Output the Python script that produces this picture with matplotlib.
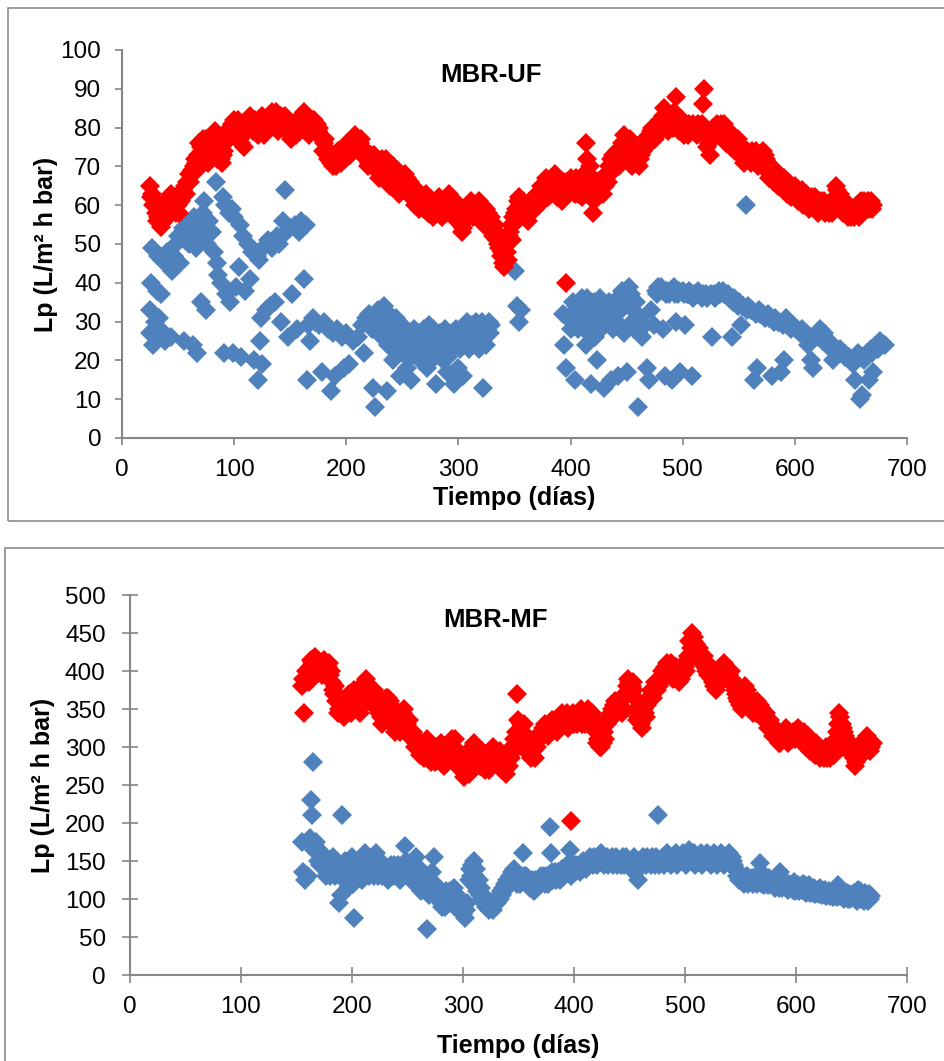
# -*- coding: utf-8 -*-
"""
Lp vs tiempo, MBR-UF y MBR-MF (dos paneles)
"""

import matplotlib
matplotlib.use("Agg")
import matplotlib.pyplot as plt
from matplotlib.patches import Rectangle
import numpy as np

###############################################
# DATA  (dia, Lp)
###############################################
uf_red = [
    (25, 65), (26, 62), (28, 60), (30, 58), (32, 57), (34, 56), (36, 55.5), (38, 57), (40, 59),
    (42, 62), (44, 63), (46, 60), (48, 58), (50, 60), (52, 62), (54, 64), (56, 65), (58, 66),
    (60, 68), (62, 69), (64, 70), (66, 71), (68, 73), (70, 75), (72, 77), (74, 76), (76, 74),
    (78, 72), (80, 74), (82, 77), (84, 78), (86, 75), (88, 72), (90, 73), (92, 76), (94, 79),
    (96, 80), (98, 81), (100, 82), (102, 80), (104, 78), (106, 76), (108, 78), (110, 81),
    (112, 82), (114, 83), (116, 81), (118, 80), (120, 79), (122, 81), (124, 82), (126, 80),
    (128, 79), (130, 81), (132, 83), (134, 84), (136, 82), (138, 80), (140, 81), (142, 83),
    (144, 82), (146, 80), (148, 79), (150, 78), (152, 79), (154, 81), (156, 80), (158, 81),
    (160, 83), (162, 84), (164, 82), (166, 80), (168, 81), (170, 80), (172, 79), (174, 81),
    (176, 80), (178, 77), (180, 76), (182, 74), (184, 72), (186, 71), (188, 70), (190, 72),
    (192, 71), (194, 73), (196, 72), (198, 73), (200, 74), (202, 75), (204, 76), (206, 77),
    (208, 78), (210, 77), (212, 76), (214, 75), (216, 73), (218, 72), (220, 71), (222, 73),
    (224, 72), (226, 70), (228, 69), (230, 71), (232, 72), (234, 70), (236, 68), (238, 67),
    (240, 69), (242, 70), (244, 67), (246, 66), (248, 65), (250, 66), (252, 68), (254, 67),
    (256, 65), (258, 64), (260, 63), (262, 62), (264, 63), (266, 61), (268, 60), (270, 61),
    (272, 62), (274, 60), (276, 59), (278, 58), (280, 60), (282, 61), (284, 59), (286, 58),
    (288, 60), (290, 62), (292, 63), (294, 61), (296, 60), (298, 58), (300, 57), (302, 55),
    (304, 54), (306, 56), (308, 58), (310, 60), (312, 59), (314, 58), (316, 60), (318, 61),
    (320, 59), (322, 58), (324, 57), (326, 58), (328, 56), (330, 55), (332, 53), (334, 51),
    (336, 49), (338, 47), (340, 45), (341, 44), (343, 48), (345, 52), (347, 55), (349, 57),
    (351, 59), (353, 61), (355, 60), (357, 59), (359, 58), (361, 57), (363, 59), (365, 60),
    (367, 62), (369, 61), (371, 62), (373, 63), (375, 64), (377, 65), (379, 63), (381, 64),
    (383, 66), (385, 67), (387, 66), (389, 64), (391, 62), (393, 63), (395, 65), (396, 40),
    (397, 66), (399, 64), (401, 65), (403, 66), (405, 67), (407, 63), (409, 64), (411, 65),
    (413, 67), (414, 76), (415, 72), (417, 70), (419, 65), (420, 58), (422, 63), (424, 66),
    (426, 64), (428, 65), (430, 67), (432, 68), (434, 70), (436, 72), (438, 73), (440, 71),
    (442, 72), (444, 74), (446, 76), (448, 78), (450, 77), (452, 75), (454, 72), (456, 71),
    (458, 73), (460, 74), (462, 72), (464, 75), (466, 77), (468, 76), (470, 78), (472, 79),
    (474, 78), (476, 80), (478, 81), (480, 82), (482, 83), (484, 81), (486, 80), (488, 82),
    (490, 81), (492, 84), (494, 88), (496, 83), (498, 81), (500, 80), (502, 79), (504, 80),
    (506, 81), (508, 80), (510, 79), (512, 80), (514, 81), (516, 79), (518, 86), (519, 90),
    (520, 80), (522, 75), (524, 73), (526, 77), (528, 79), (530, 80), (532, 78), (534, 81),
    (536, 80), (538, 79), (540, 78), (542, 77), (544, 78), (546, 76), (548, 75), (550, 76),
    (552, 75), (554, 74), (556, 73), (558, 72), (560, 73), (562, 74), (564, 73), (566, 72),
    (568, 71), (570, 73), (572, 74), (574, 72), (576, 71), (578, 70), (580, 68), (582, 69),
    (584, 67), (586, 68), (588, 66), (590, 67), (592, 65), (594, 66), (596, 65), (598, 64),
    (600, 65), (602, 64), (604, 63), (606, 64), (608, 62), (610, 63), (612, 62), (614, 61),
    (616, 60), (618, 62), (620, 61), (622, 60), (624, 59), (626, 61), (628, 60), (630, 58),
    (632, 59), (634, 60), (636, 62), (638, 64), (640, 63), (642, 61), (644, 60), (646, 59),
    (648, 58), (650, 57), (652, 58), (654, 59), (656, 58), (658, 59), (660, 60), (662, 61),
    (664, 60), (666, 59), (668, 61), (670, 60),
    # mesures intermediaires
    (27, 63), (29, 61), (31, 56), (33, 58), (35, 54.5), (37, 58), (39, 61), (41, 57), (43, 60),
    (47, 62), (51, 58), (53, 61), (57, 63), (61, 66), (65, 72), (67, 69), (69, 76), (71, 74),
    (73, 73), (75, 77), (77, 71), (79, 75), (81, 73), (83, 79), (85, 72), (87, 77), (89, 71),
    (91, 74), (93, 78), (95, 77), (97, 79), (99, 78), (101, 80), (103, 82), (105, 77),
    (107, 79), (109, 75), (111, 79), (113, 80), (115, 82), (117, 79), (119, 82), (121, 78),
    (123, 80), (125, 83), (127, 78), (129, 82), (131, 80), (133, 81), (135, 82), (137, 84),
    (139, 79), (141, 82), (143, 81), (145, 83), (147, 80), (149, 81), (151, 77), (153, 80),
    (155, 78), (157, 82), (159, 79), (161, 81), (163, 80), (165, 83), (167, 78), (169, 82),
    (171, 82), (173, 80), (175, 79), (177, 78), (179, 74), (181, 77), (183, 73), (185, 74),
    (187, 73), (189, 71), (191, 70), (193, 74), (195, 71), (197, 74), (199, 72), (201, 76),
    (203, 73), (205, 75), (207, 76), (209, 75), (211, 74), (213, 77), (215, 73), (217, 74),
    (219, 70), (221, 72), (223, 70), (225, 73), (227, 72), (229, 67), (231, 69), (233, 68),
    (235, 72), (237, 70), (239, 65), (241, 67), (243, 68), (245, 69), (247, 63), (249, 68),
    (251, 64), (253, 65), (255, 63), (257, 66), (259, 62), (261, 60), (263, 64), (265, 59),
    (267, 62), (269, 59), (271, 63), (273, 58), (275, 61), (277, 57), (279, 59), (281, 58),
    (283, 62), (285, 57), (287, 61), (289, 58), (291, 60), (293, 59), (295, 58), (297, 61),
    (299, 56), (301, 59), (303, 53), (305, 57), (307, 59), (309, 57), (311, 61), (313, 57),
    (315, 59), (317, 58), (319, 57), (321, 60), (323, 55), (325, 59), (327, 54), (329, 57),
    (331, 52), (333, 55), (335, 50), (337, 52), (339, 48), (342, 50), (344, 46), (346, 53),
    (348, 51), (350, 58), (352, 56), (354, 62), (356, 57), (358, 61), (360, 59), (362, 56),
    (364, 58), (366, 61), (368, 59), (370, 63), (372, 60), (374, 65), (376, 62), (378, 67),
    (380, 62), (382, 65), (384, 64), (386, 68), (388, 62), (390, 65), (392, 61), (394, 66),
    (398, 63), (400, 67), (402, 64), (404, 63), (406, 65), (408, 66), (410, 62), (412, 68),
    (416, 68), (418, 67), (421, 61), (423, 65), (425, 63), (427, 66), (429, 63), (431, 65),
    (433, 66), (435, 68), (437, 69), (439, 70), (441, 74), (443, 70), (445, 73), (447, 72),
    (449, 75), (451, 73), (453, 77), (455, 70), (457, 72), (459, 75), (461, 70), (463, 73),
    (465, 74), (467, 75), (469, 77), (471, 76), (473, 80), (475, 77), (477, 78), (479, 80),
    (481, 80), (483, 85), (485, 82), (487, 79), (489, 83), (491, 80), (493, 82), (495, 81),
    (497, 79), (499, 82), (501, 78), (503, 81), (505, 78), (507, 79), (509, 81), (511, 80),
    (513, 78), (515, 80), (517, 81), (521, 78), (523, 76), (525, 79), (527, 80), (529, 78),
    (531, 81), (533, 79), (535, 78), (537, 81), (539, 76), (541, 79), (543, 75), (545, 77),
    (547, 74), (549, 77), (551, 73), (553, 75), (555, 71), (557, 74), (559, 73), (561, 71),
    (563, 72), (565, 74), (567, 70), (569, 72), (571, 70), (573, 73), (575, 69), (577, 67),
    (579, 69), (581, 66), (583, 67), (585, 65), (587, 66), (589, 65), (591, 64), (593, 63),
    (595, 64), (597, 62), (599, 63), (601, 62), (603, 61), (605, 62), (607, 60), (609, 61),
    (611, 60), (613, 59), (615, 62), (617, 60), (619, 59), (621, 58), (623, 61), (625, 60),
    (627, 58), (629, 59), (631, 60), (633, 58), (635, 61), (637, 65), (639, 62), (641, 60),
    (643, 58), (645, 61), (647, 57), (649, 59), (651, 58), (653, 57), (655, 60), (657, 57),
    (659, 61), (661, 59), (663, 60), (665, 61), (667, 60), (669, 59),
]

uf_blue = [
    (25, 27), (25, 33), (26, 40), (27, 49), (28, 24), (29, 30), (30, 26), (31, 38), (32, 47),
    (33, 31), (34, 28), (35, 37), (36, 46), (38, 25), (40, 48), (42, 44), (44, 26), (45, 43),
    (46, 47), (48, 50), (50, 52), (52, 45), (54, 54), (55, 25), (56, 51), (58, 55), (60, 50),
    (62, 53), (63, 24), (64, 57), (66, 49), (67, 22), (68, 52), (70, 55), (70, 35), (72, 58),
    (73, 61), (74, 54), (75, 33), (76, 50), (78, 56), (80, 53), (82, 48), (84, 66), (85, 45),
    (86, 42), (88, 40), (90, 62), (91, 22), (92, 60), (93, 37), (95, 58), (96, 35), (98, 59),
    (99, 22), (100, 57), (102, 39), (104, 44), (105, 55), (106, 21), (108, 52), (110, 38),
    (112, 50), (114, 41), (116, 48), (118, 20), (120, 47), (121, 15), (122, 46), (123, 25),
    (124, 31), (125, 19), (126, 49), (128, 33), (130, 51), (132, 34), (134, 49), (136, 35),
    (138, 52), (140, 50), (142, 30), (144, 56), (145, 64), (146, 53), (148, 26), (150, 54),
    (152, 37), (154, 55), (156, 28), (158, 53), (160, 56), (162, 41), (164, 55), (165, 15),
    (166, 29), (168, 25), (170, 31), (172, 30), (176, 29), (178, 17), (180, 30), (184, 28),
    (186, 12), (188, 27), (190, 16), (192, 28), (196, 26), (198, 18), (200, 27), (202, 19),
    (206, 25), (210, 26), (214, 29), (216, 22), (218, 31), (220, 32), (224, 13), (226, 8),
    (228, 33), (230, 30), (232, 26), (234, 34), (236, 12), (238, 32), (240, 25), (242, 20),
    (244, 31), (246, 22), (248, 16), (250, 29), (252, 27), (254, 18), (256, 24), (258, 15),
    (260, 28), (262, 23), (264, 26), (266, 20), (268, 25), (270, 27), (272, 18), (274, 29),
    (276, 22), (278, 26), (280, 14), (282, 24), (284, 27), (286, 20), (288, 28), (290, 17),
    (292, 25), (294, 27), (296, 14), (298, 28), (300, 18), (302, 26), (304, 16), (306, 28),
    (308, 30), (310, 25), (312, 29), (314, 27), (316, 30), (318, 23), (320, 28), (322, 13),
    (324, 26), (326, 29), (328, 27),
    (221, 30), (223, 28), (225, 31), (227, 29), (229, 27), (231, 33), (233, 31), (235, 28),
    (237, 24), (239, 29), (241, 27), (243, 23), (245, 28), (247, 26), (249, 24), (251, 22),
    (253, 25), (255, 27), (257, 21), (259, 26), (261, 24), (263, 21), (265, 27), (267, 23),
    (269, 28), (271, 22), (273, 25), (275, 24), (277, 28), (279, 21), (281, 26), (283, 23),
    (285, 25), (287, 22), (289, 26), (291, 21), (293, 23), (295, 26), (297, 24), (299, 27),
    (301, 23), (303, 28), (305, 25), (307, 27), (309, 23), (311, 26), (313, 29), (315, 25),
    (317, 28), (319, 26), (321, 30), (323, 27), (325, 24), (327, 30), (329, 29),
    (350, 43), (352, 34), (354, 30), (356, 33),
    (393, 32), (394, 24), (396, 18), (398, 31), (400, 28), (402, 35), (404, 15), (406, 30),
    (408, 33), (410, 36), (412, 28), (414, 24), (416, 34), (418, 14), (420, 32), (422, 26),
    (424, 20), (426, 36), (428, 33), (430, 13), (432, 30), (434, 35), (436, 15), (438, 28),
    (440, 33), (442, 16), (444, 36), (446, 38), (448, 27), (450, 17), (452, 39), (454, 37),
    (456, 33), (458, 35), (460, 8), (462, 31), (464, 26), (466, 29), (468, 18), (470, 15),
    (472, 33), (474, 29), (476, 38), (478, 39), (480, 38), (482, 28), (484, 16), (486, 38),
    (488, 37), (490, 15), (492, 39), (494, 30), (496, 37), (498, 17), (500, 38), (502, 29),
    (504, 37), (506, 38), (508, 16), (510, 37), (514, 38), (518, 37), (522, 36), (526, 26),
    (528, 37), (532, 38), (536, 38), (540, 37), (544, 26), (546, 36), (550, 35), (552, 29),
    (554, 34), (556, 60), (558, 34), (562, 33), (564, 15), (566, 18), (568, 33), (572, 32),
    (576, 32), (580, 16), (582, 31), (586, 30), (588, 17), (590, 20), (592, 31), (594, 29),
    (598, 29), (602, 28), (606, 28), (610, 27), (612, 24), (614, 20), (616, 18), (618, 26),
    (622, 28), (626, 27), (630, 25), (634, 20), (636, 23), (640, 23), (644, 22), (648, 21),
    (652, 19), (654, 15), (656, 22), (658, 10), (660, 11), (662, 20), (664, 22), (666, 15),
    (668, 23), (670, 17), (672, 24), (676, 25), (680, 24),
    (401, 32), (403, 30), (405, 34), (407, 28), (409, 31), (411, 33), (413, 30), (415, 36),
    (417, 31), (419, 29), (421, 35), (423, 30), (425, 33), (427, 28), (429, 35), (431, 32),
    (433, 34), (435, 29), (437, 31), (439, 35), (441, 30), (443, 34), (445, 33), (447, 37),
    (449, 35), (451, 36), (453, 34), (455, 30), (457, 28), (459, 31),
    (477, 37), (481, 39), (485, 37), (489, 38), (493, 37), (497, 38), (501, 37), (505, 37),
    (509, 36), (513, 37), (517, 36), (521, 37), (525, 37), (529, 36), (533, 37), (537, 37),
    (541, 36), (545, 35), (549, 34), (553, 34), (557, 33), (561, 33), (565, 32), (569, 32),
    (573, 31), (577, 31), (581, 30), (585, 30), (589, 29), (593, 29), (597, 28), (601, 28),
    (605, 27), (609, 27), (613, 26), (617, 26), (621, 26), (625, 25), (629, 24), (633, 23),
    (637, 22), (641, 22), (645, 21), (649, 20), (653, 20), (657, 21), (661, 21), (665, 22),
    (669, 22), (674, 23), (678, 24),
]

mf_red = [
    (155, 380), (157, 345), (158, 390), (160, 395), (162, 405), (164, 412), (166, 410),
    (168, 405), (170, 413), (172, 408), (174, 400), (176, 410), (178, 405), (180, 395),
    (182, 385), (184, 370), (186, 360), (188, 350), (190, 345), (192, 355), (194, 360),
    (196, 365), (198, 355), (200, 370), (202, 375), (204, 365), (206, 350), (208, 360),
    (210, 375), (212, 385), (214, 380), (216, 370), (218, 365), (220, 375), (222, 360),
    (224, 345), (226, 340), (228, 350), (230, 355), (232, 365), (234, 360), (236, 345),
    (238, 330), (240, 325), (242, 335), (244, 340), (246, 345), (248, 340), (250, 330),
    (252, 320), (254, 310), (256, 315), (258, 305), (260, 300), (262, 295), (264, 290),
    (266, 300), (268, 310), (270, 295), (272, 290), (274, 285), (276, 300), (278, 295),
    (280, 305), (282, 290), (284, 280), (286, 290), (288, 305), (290, 310), (292, 300),
    (294, 285), (296, 280), (298, 275), (300, 270), (302, 265), (304, 275), (306, 290),
    (308, 300), (310, 305), (312, 295), (314, 285), (316, 290), (318, 280), (320, 270),
    (322, 275), (324, 290), (326, 295), (328, 290), (330, 285), (332, 280), (334, 275),
    (336, 280), (338, 270), (340, 285), (342, 290), (344, 300), (346, 310), (348, 320),
    (349, 370), (350, 335), (352, 330), (354, 320), (356, 310), (358, 300), (360, 295),
    (362, 290), (364, 300), (366, 310), (368, 315), (370, 320), (372, 325), (374, 330),
    (376, 320), (378, 330), (380, 335), (382, 325), (384, 330), (386, 335), (388, 340),
    (390, 330), (392, 335), (394, 345), (396, 340), (397, 203), (398, 335), (400, 330),
    (402, 340), (404, 345), (406, 350), (408, 340), (410, 330), (412, 335), (414, 340),
    (416, 345), (418, 330), (420, 320), (422, 310), (424, 300), (426, 305), (428, 310),
    (430, 330), (432, 340), (434, 350), (436, 355), (438, 345), (440, 360), (442, 365),
    (444, 350), (446, 370), (448, 380), (450, 385), (452, 380), (454, 375), (456, 350),
    (458, 340), (460, 330), (462, 340), (464, 345), (466, 355), (468, 365), (470, 370),
    (472, 375), (474, 380), (476, 385), (478, 390), (480, 395), (482, 405), (484, 410),
    (486, 400), (488, 395), (490, 400), (492, 405), (494, 395), (496, 390), (498, 400),
    (500, 405), (502, 410), (504, 440), (506, 450), (508, 445), (510, 435), (512, 425),
    (514, 420), (516, 415), (518, 405), (520, 410), (522, 400), (524, 390), (526, 380),
    (528, 375), (530, 385), (532, 395), (534, 400), (536, 405), (538, 400), (540, 395),
    (542, 390), (544, 380), (546, 370), (548, 360), (550, 355), (552, 370), (554, 380),
    (556, 375), (558, 365), (560, 355), (562, 350), (564, 345), (566, 350), (568, 355),
    (570, 345), (572, 340), (574, 335), (576, 330), (578, 325), (580, 320), (582, 315),
    (584, 310), (586, 305), (588, 310), (590, 320), (592, 315), (594, 320), (596, 310),
    (598, 315), (600, 320), (602, 325), (604, 315), (606, 305), (608, 315), (610, 310),
    (612, 305), (614, 300), (616, 295), (618, 305), (620, 290), (622, 285), (624, 295),
    (626, 290), (628, 285), (630, 295), (632, 300), (634, 290), (636, 310), (638, 330),
    (640, 340), (642, 325), (644, 315), (646, 305), (648, 300), (650, 295), (652, 285),
    (654, 280), (656, 290), (658, 300), (660, 305), (662, 310), (664, 315), (666, 305),
    (668, 300),
    (156, 390), (159, 400), (161, 385), (163, 415), (165, 395), (167, 418), (169, 398),
    (171, 410), (173, 395), (175, 415), (177, 400), (179, 410), (181, 400), (183, 375),
    (185, 380), (187, 345), (189, 365), (191, 350), (193, 340), (195, 350), (197, 370),
    (199, 345), (201, 360), (203, 355), (205, 370), (207, 345), (209, 380), (211, 365),
    (213, 390), (215, 360), (217, 375), (219, 355), (221, 370), (223, 350), (225, 355),
    (227, 330), (229, 345), (231, 365), (233, 350), (235, 355), (237, 340), (239, 320),
    (241, 340), (243, 320), (245, 330), (247, 350), (249, 325), (251, 335), (253, 315),
    (255, 320), (257, 300), (259, 310), (261, 290), (263, 300), (265, 285), (267, 295),
    (269, 300), (271, 280), (273, 300), (275, 280), (277, 290), (279, 290), (281, 300),
    (283, 275), (285, 300), (287, 285), (289, 295), (291, 290), (293, 310), (295, 275),
    (297, 290), (299, 285), (301, 260), (303, 280), (305, 265), (307, 280), (309, 295),
    (311, 285), (313, 300), (315, 275), (317, 295), (319, 285), (321, 290), (323, 270),
    (325, 280), (327, 300), (329, 280), (331, 290), (333, 295), (335, 270), (337, 290),
    (339, 265), (341, 275), (343, 285), (345, 295), (347, 300), (351, 320), (353, 315),
    (355, 330), (357, 295), (359, 305), (361, 285), (363, 295), (365, 285), (367, 300),
    (369, 310), (371, 315), (373, 320), (375, 325), (377, 315), (379, 320), (381, 325),
    (383, 335), (385, 320), (387, 325), (389, 345), (391, 330), (393, 340), (395, 325),
    (399, 345), (401, 335), (403, 330), (405, 340), (407, 330), (409, 335), (411, 340),
    (413, 350), (415, 335), (417, 340), (419, 325), (421, 305), (423, 300), (425, 315),
    (427, 320), (429, 335), (431, 340), (433, 345), (435, 340), (437, 360), (439, 350),
    (441, 355), (443, 345), (445, 365), (447, 370), (449, 390), (451, 375), (453, 385),
    (455, 365), (457, 335), (459, 345), (461, 325), (463, 350), (465, 340), (467, 360),
    (469, 375), (471, 365), (473, 385), (475, 375), (477, 380), (479, 400), (481, 390),
    (483, 400), (485, 405), (487, 410), (489, 390), (491, 395), (493, 400), (495, 385),
    (497, 395), (499, 410), (501, 400), (503, 420), (505, 430), (507, 440), (509, 425),
    (511, 420), (513, 430), (515, 410), (517, 420), (519, 400), (521, 395), (523, 405),
    (525, 385), (527, 395), (529, 380), (531, 400), (533, 390), (535, 410), (537, 395),
    (539, 390), (541, 400), (543, 385), (545, 375), (547, 365), (549, 370), (551, 350),
    (553, 375), (555, 370), (557, 360), (559, 365), (561, 345), (563, 355), (565, 360),
    (567, 345), (569, 350), (571, 335), (573, 345), (575, 325), (577, 335), (579, 315),
    (581, 325), (583, 310), (585, 305), (587, 315), (589, 310), (591, 325), (593, 305),
    (595, 315), (597, 320), (599, 310), (601, 315), (603, 320), (605, 310), (607, 320),
    (609, 300), (611, 315), (613, 295), (615, 305), (617, 290), (619, 295), (621, 300),
    (623, 290), (625, 285), (627, 300), (629, 290), (631, 285), (633, 295), (635, 300),
    (637, 320), (639, 345), (641, 330), (643, 320), (645, 310), (647, 295), (649, 305),
    (651, 290), (653, 275), (655, 295), (657, 285), (659, 295), (661, 300), (663, 305),
    (665, 310), (667, 295), (669, 305),
]

mf_blue = [
    (155, 175), (156, 135), (158, 125), (160, 130), (162, 180), (163, 230), (164, 210),
    (165, 280), (166, 165), (168, 175), (170, 160), (172, 150), (174, 145), (176, 140),
    (178, 135), (180, 130), (182, 145), (184, 150), (186, 140), (188, 95), (190, 105),
    (191, 210), (192, 140), (194, 150), (196, 115), (198, 135), (200, 155), (202, 75),
    (204, 140), (206, 135), (208, 130), (210, 145), (212, 160), (214, 150), (216, 140),
    (218, 135), (220, 130), (222, 160), (224, 145), (226, 135), (228, 140), (230, 130),
    (232, 125), (234, 140), (236, 135), (238, 145), (240, 130), (242, 135), (244, 140),
    (246, 145), (248, 170), (250, 140), (252, 130), (254, 125), (256, 145), (258, 155),
    (260, 120), (262, 110), (264, 130), (266, 115), (268, 60), (270, 125), (272, 135),
    (274, 155), (276, 110), (278, 100), (280, 95), (282, 105), (284, 90), (286, 100),
    (288, 110), (290, 95), (292, 115), (294, 105), (296, 90), (298, 100), (300, 80),
    (302, 75), (304, 95), (306, 140), (308, 145), (310, 150), (312, 140), (314, 125),
    (316, 115), (318, 105), (320, 100), (322, 95), (324, 90), (326, 88), (328, 92),
    (330, 100), (332, 105), (334, 110), (336, 115), (338, 120), (340, 125), (342, 130),
    (344, 135), (346, 140), (348, 130), (350, 125), (352, 130), (354, 160), (356, 125),
    (358, 120), (360, 115), (362, 125), (364, 110), (366, 120), (368, 125), (370, 130),
    (372, 125), (374, 120), (376, 130), (378, 195), (379, 160), (380, 135), (382, 130),
    (384, 125), (386, 135), (388, 130), (390, 135), (392, 140), (394, 145), (396, 165),
    (398, 135), (400, 140), (402, 145), (404, 140), (406, 145), (408, 150), (410, 145),
    (412, 150), (414, 155), (416, 150), (418, 155), (420, 150), (422, 155), (424, 160),
    (426, 155), (428, 150), (430, 155), (432, 150), (434, 155), (436, 150), (438, 155),
    (440, 150), (442, 145), (444, 155), (446, 150), (448, 150), (450, 145), (452, 150),
    (454, 155), (456, 150), (458, 125), (460, 150), (462, 155), (464, 150), (466, 155),
    (468, 150), (470, 155), (472, 150), (474, 155), (476, 210), (478, 150), (480, 155),
    (482, 150), (484, 160), (486, 155), (488, 150), (490, 155), (492, 160), (494, 150),
    (496, 155), (498, 160), (500, 155), (502, 150), (504, 165), (506, 155), (508, 160),
    (510, 150), (512, 155), (514, 160), (516, 155), (518, 150), (520, 160), (522, 155),
    (524, 150), (526, 160), (528, 155), (530, 150), (532, 160), (534, 155), (536, 150),
    (538, 155), (540, 160), (542, 155), (544, 145), (546, 140), (548, 135), (550, 130),
    (552, 128), (554, 125), (556, 130), (558, 125), (560, 128), (562, 125), (564, 130),
    (566, 125), (568, 148), (570, 125), (572, 130), (574, 125), (576, 128), (578, 122),
    (580, 125), (582, 120), (584, 128), (586, 135), (588, 120), (590, 122), (592, 118),
    (594, 120), (596, 118), (598, 122), (600, 115), (602, 118), (604, 115), (606, 120),
    (608, 118), (610, 115), (612, 118), (614, 112), (616, 115), (618, 110), (620, 112),
    (622, 115), (624, 110), (626, 112), (628, 108), (630, 110), (632, 108), (634, 112),
    (636, 110), (638, 118), (640, 108), (642, 110), (644, 105), (646, 108), (648, 106),
    (650, 105), (652, 108), (654, 105), (656, 112), (658, 110), (660, 105), (662, 108),
    (664, 102), (666, 106), (668, 104),
    (167, 170), (169, 150), (171, 145), (173, 160), (175, 150), (177, 130), (179, 145),
    (181, 135), (183, 155), (185, 130), (187, 145), (189, 130), (193, 125), (195, 145),
    (197, 130), (199, 140), (201, 120), (203, 150), (205, 145), (207, 140), (209, 125),
    (211, 135), (213, 145), (215, 130), (217, 150), (219, 145), (221, 140), (223, 130),
    (225, 150), (227, 130), (229, 145), (231, 140), (233, 130), (235, 145), (237, 130),
    (239, 135), (241, 145), (243, 125), (245, 135), (247, 130), (249, 150), (251, 135),
    (253, 145), (255, 130), (257, 120), (259, 135), (261, 140), (263, 120), (265, 125),
    (267, 110), (269, 105), (271, 115), (273, 110), (275, 120), (277, 105), (279, 110),
    (281, 90), (283, 95), (285, 110), (287, 95), (289, 100), (291, 105), (293, 90),
    (295, 100), (297, 85), (299, 95), (301, 90), (303, 85), (305, 125), (307, 130),
    (309, 120), (311, 130), (313, 110), (315, 105), (317, 100), (319, 95), (321, 90),
    (323, 85), (325, 95), (327, 85), (329, 95), (331, 95), (333, 100), (335, 105),
    (337, 110), (339, 115), (341, 120), (343, 125), (345, 125), (347, 135), (349, 120),
    (351, 120), (353, 125), (355, 130), (357, 130), (359, 125), (361, 120), (363, 120),
    (365, 125), (367, 115), (369, 120), (371, 125), (373, 130), (375, 125), (377, 120),
    (381, 125), (383, 135), (385, 130), (387, 125), (389, 140), (391, 130), (393, 135),
    (395, 140), (397, 130), (399, 145), (401, 135), (403, 140), (405, 135), (407, 140),
    (409, 145), (411, 140), (413, 145), (415, 150), (417, 145), (419, 150), (421, 145),
    (423, 150), (425, 150), (427, 145), (429, 150), (431, 145), (433, 150), (435, 145),
    (437, 150), (439, 145), (441, 150), (443, 150), (445, 145), (447, 155), (449, 150),
    (451, 140), (453, 145), (455, 150), (457, 145), (459, 140), (461, 145), (463, 150),
    (465, 145), (467, 150), (469, 145), (471, 150), (473, 145), (475, 150), (477, 145),
    (479, 150), (481, 145), (483, 150), (485, 150), (487, 145), (489, 150), (491, 150),
    (493, 145), (495, 150), (497, 150), (499, 150), (501, 145), (503, 155), (505, 150),
    (507, 150), (509, 145), (511, 150), (513, 150), (515, 145), (517, 150), (519, 150),
    (521, 150), (523, 145), (525, 150), (527, 150), (529, 145), (531, 150), (533, 150),
    (535, 145), (537, 150), (539, 150), (541, 145), (543, 150), (545, 140), (547, 130),
    (549, 125), (551, 125), (553, 120), (555, 122), (557, 120), (559, 122), (561, 120),
    (563, 122), (565, 120), (567, 122), (569, 120), (571, 118), (573, 122), (575, 118),
    (577, 120), (579, 118), (581, 115), (583, 118), (585, 115), (587, 115), (589, 118),
    (591, 115), (593, 112), (595, 115), (597, 112), (599, 110), (601, 112), (603, 110),
    (605, 112), (607, 110), (609, 108), (611, 110), (613, 108), (615, 108), (617, 106),
    (619, 108), (621, 106), (623, 105), (625, 106), (627, 104), (629, 105), (631, 104),
    (633, 103), (635, 104), (637, 102), (639, 104), (641, 102), (643, 100), (645, 102),
    (647, 100), (649, 100), (651, 102), (653, 100), (655, 98), (657, 102), (659, 100),
    (661, 98), (663, 100), (665, 98), (667, 100),
]

uf_yticks = [0, 10, 20, 30, 40, 50, 60, 70, 80, 90, 100]
mf_yticks = [0, 50, 100, 150, 200, 250, 300, 350, 400, 450, 500]
xticks = [0, 100, 200, 300, 400, 500, 600, 700]

RED = "#FF0000"
BLUE = "#4F81BD"
GRIS = "#868686"

plt.rcParams["font.family"] = ["Liberation Sans", "DejaVu Sans"]

fig = plt.figure(figsize=(9.45, 10.61), dpi=100)

# cadres des deux graphiques
fig.patches.append(Rectangle((8 / 945, 1 - 521 / 1061), 1.0, 513 / 1061,
                             transform=fig.transFigure, fill=False,
                             edgecolor="#8C8C8C", linewidth=1.2))
fig.patches.append(Rectangle((5 / 945, -0.1), 1.0, 1 - 548 / 1061 + 0.1,
                             transform=fig.transFigure, fill=False,
                             edgecolor="#8C8C8C", linewidth=1.2))


def panel(ax, blue, red, yticks, title, tdir, tlen, ypad, xpad, ylpad, xlpad):
    b = np.array(blue)
    r = np.array(red)
    ax.plot(b[:, 0], b[:, 1], "D", color=BLUE, ms=10.2, mew=0, clip_on=False)
    ax.plot(r[:, 0], r[:, 1], "D", color=RED, ms=10.2, mew=0, clip_on=False)
    ax.set_xlim(0, 700)
    ax.set_ylim(yticks[0], yticks[-1])
    ax.set_xticks(xticks)
    ax.set_yticks(yticks)
    for s in ["top", "right"]:
        ax.spines[s].set_visible(False)
    for s in ["left", "bottom"]:
        ax.spines[s].set_color(GRIS)
        ax.spines[s].set_linewidth(1.5)
    ax.tick_params(direction=tdir, length=tlen, width=1.2, color=GRIS, labelsize=17.5)
    ax.tick_params(axis="y", pad=ypad)
    ax.tick_params(axis="x", pad=xpad)
    ax.set_xlabel("Tiempo (días)", fontsize=18, fontweight="bold", labelpad=xlpad)
    ax.set_ylabel("Lp (L/m² h bar)", fontsize=18, fontweight="bold", labelpad=ylpad)
    ax.text(0.47, 0.935, title, transform=ax.transAxes, ha="center", va="center",
            fontsize=18.5, fontweight="bold")


ax1 = fig.add_axes([122 / 945, 1 - 438 / 1061, 785 / 945, 388 / 1061])
panel(ax1, uf_blue, uf_red, uf_yticks, "MBR-UF", "out", 5, 10, 10, 2, 4)

ax2 = fig.add_axes([130 / 945, 1 - 975 / 1061, 777 / 945, 380 / 1061])
panel(ax2, mf_blue, mf_red, mf_yticks, "MBR-MF", "inout", 11, 12, 9.5, 7, 12)

fig.savefig("out.png", dpi=100)
